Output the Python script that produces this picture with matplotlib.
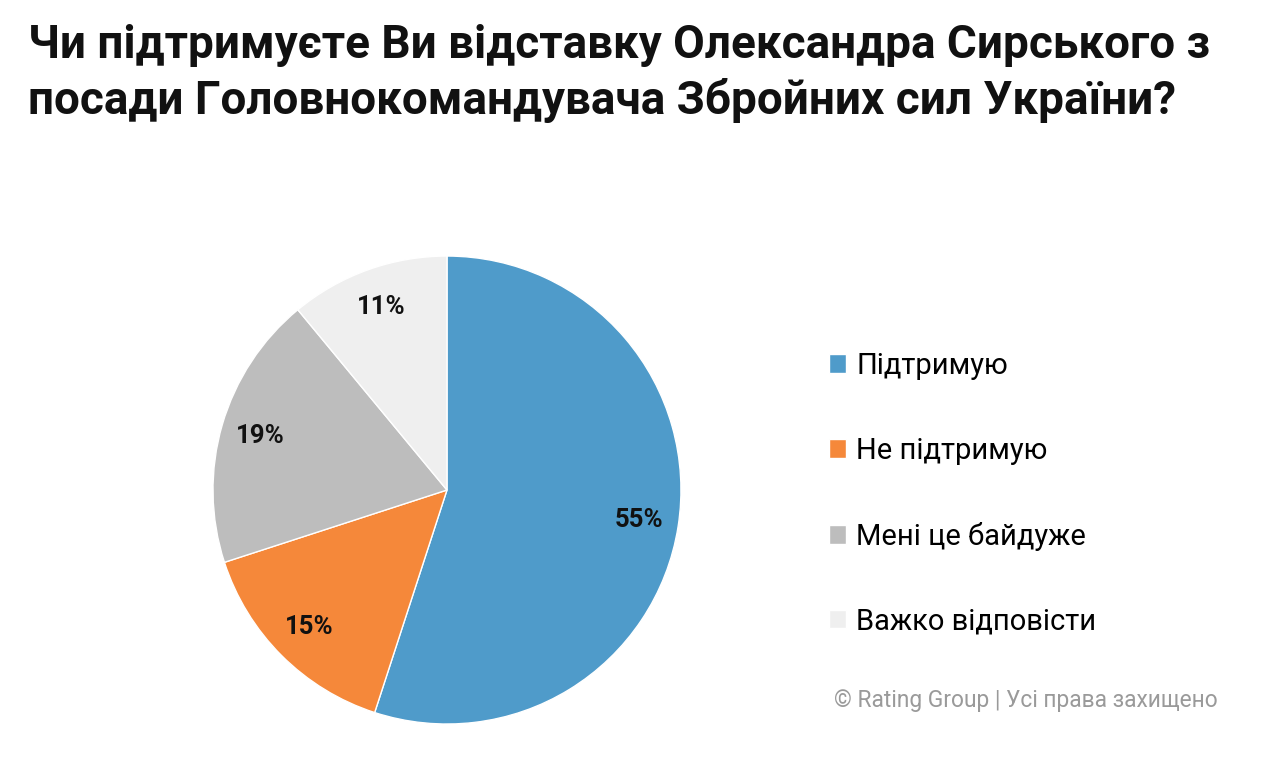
import matplotlib.pyplot as plt

plt.rcParams['font.family'] = ['Roboto', 'DejaVu Sans']

# дані
labels = ['Підтримую', 'Не підтримую', 'Мені це байдуже', 'Важко відповісти']
values = [55, 15, 19, 11]
colors = ['#4F9BCA', '#F5883A', '#BDBDBD', '#EFEFEF']

title = 'Чи підтримуєте Ви відставку Олександра Сирського з\nпосади Головнокомандувача Збройних сил України?'
footer = '© Rating Group | Усі права захищено'

fig = plt.figure(figsize=(12.8, 7.7), dpi=100)

# пиріг
ax = fig.add_axes([0.1664, 0.0597, 0.3656, 0.6078])
wedges, texts, autotexts = ax.pie(
    values, colors=colors, startangle=90, counterclock=False,
    radius=1, autopct='%d%%', pctdistance=0.83,
    wedgeprops=dict(edgecolor='white', linewidth=1),
    textprops=dict(fontsize=18.5, fontweight='bold', color='#111111'))
ax.set_xlim(-1, 1)
ax.set_ylim(-1, 1)
ax.set_aspect('equal')

# легенда
fig.legend(wedges, labels, loc='upper left', bbox_to_anchor=(0.636, 0.562),
           frameon=False, fontsize=21, handlelength=0.6, handleheight=0.6,
           handletextpad=0.35, labelspacing=1.95, borderpad=0)

# заголовок
fig.text(0.022, 0.97, title, ha='left', va='top', fontsize=33,
         fontweight='bold', color='#111111', linespacing=1.3)

fig.text(0.951, 0.09, footer, ha='right', va='center', fontsize=16.4, color='#9a9a9a')

fig.savefig('out.png', dpi=100, facecolor='white')
